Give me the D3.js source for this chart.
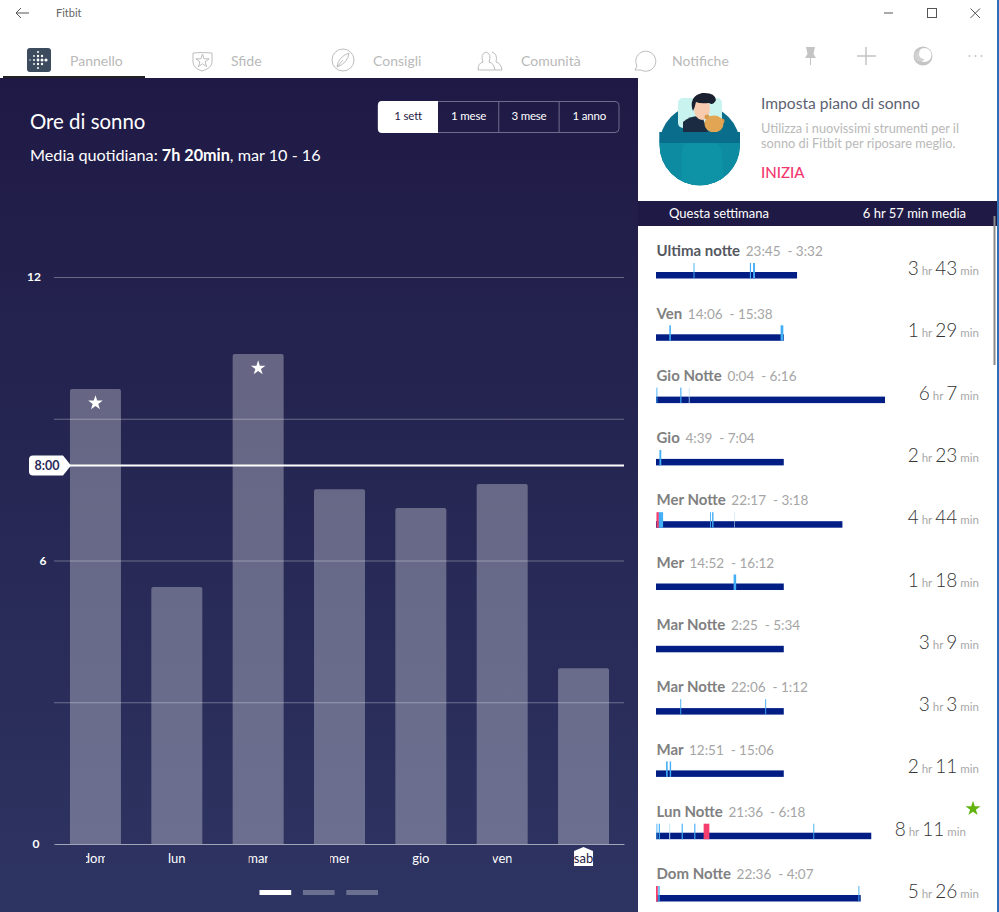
<!DOCTYPE html>
<html>
<head>
<meta charset="utf-8">
<script src="https://cdnjs.cloudflare.com/ajax/libs/d3/7.8.5/d3.min.js"></script>
<style>
  html, body { margin: 0; padding: 0; background: #fff; }
  svg { display: block; font-family: Lato, "Open Sans", sans-serif; }
  .tick text { font-family: Lato, "Open Sans", sans-serif; }
</style>
</head>
<body>
<div id="chart"></div>
<script>
// weekly chart
const days = ["dom", "lun", "mar", "mer", "gio", "ven", "sab"];
const sleepHours = [9.63, 5.44, 10.37, 7.51, 7.11, 7.62, 3.72];
const starredDays = ["dom", "mar"];
const yTicks = [0, 3, 6, 9, 12];
const yLabels = [0, 6, 12];
const goalHours = 8;
const goalLabel = "8:00";
const ranges = ["1 sett", "1 mese", "3 mese", "1 anno"];
const tabs = ["Pannello", "Sfide", "Consigli", "Comunità", "Notifiche"];

// sleep log, bar values are % of the longest bar
const logNames = ["Ultima notte", "Ven", "Gio Notte", "Gio", "Mer Notte", "Mer", "Mar Notte", "Mar Notte", "Mar", "Lun Notte", "Dom Notte"];
const logStart = ["23:45", "14:06", "0:04", "4:39", "22:17", "14:52", "2:25", "22:06", "12:51", "21:36", "22:36"];
const logEnd = ["3:32", "15:38", "6:16", "7:04", "3:18", "16:12", "5:34", "1:12", "15:06", "6:18", "4:07"];
const logHr = [3, 1, 6, 2, 4, 1, 3, 3, 2, 8, 5];
const logMin = [43, 29, 7, 23, 44, 18, 9, 3, 11, 11, 26];
const logLength = [61.6, 55.8, 100, 55.8, 81.4, 55.8, 55.8, 55.8, 55.8, 94, 89.4];
const restless = [
  [[16.4, 0.4], [41, 0.5], [42.4, 0.8]],
  [[5.8, 0.7], [54.4, 1.2]],
  [[0.2, 0.4], [10.6, 0.5]],
  [[1.5, 0.8]],
  [[1, 2.1], [23.6, 0.4], [24.5, 0.6]],
  [[33.9, 1.1]],
  [],
  [[10.6, 0.4], [47.7, 0.4]],
  [[4.4, 0.7], [6, 0.6]],
  [[0.2, 0.4], [1.2, 0.5], [11.2, 0.5], [16.7, 0.5], [68.7, 0.4]],
  [[1, 0.6], [88.4, 0.4]]
];
const faint = [[], [], [[14.3, 0.4]], [], [[34.2, 0.3]], [], [], [], [], [[5.7, 0.5]], []];
const awake = [[], [], [], [], [[0.2, 1]], [], [], [], [], [[20.8, 2.5]], [[0, 0.8]]];
const starredRow = "Lun Notte";

const svg = d3.select("#chart").append("svg").attr("width", 999).attr("height", 912);
const defs = svg.append("defs");
const grad = defs.append("linearGradient").attr("id", "bg").attr("x1", 0).attr("x2", 0).attr("y1", 0).attr("y2", 1);
grad.append("stop").attr("offset", "0%").attr("stop-color", "#1f1a45");
grad.append("stop").attr("offset", "100%").attr("stop-color", "#2e3462");

svg.append("rect").attr("x", 0).attr("y", 78).attr("width", 638).attr("height", 834).attr("fill", "url(#bg)");

// Scales
const x = d3.scaleBand().domain(days).range([54.8, 624.2]).paddingInner(0.373).paddingOuter(0.1865);
const y = d3.scaleLinear().domain([0, 12]).range([844, 277]);

// Grid and y axis
const yAxis = svg.append("g").attr("transform", "translate(54,0)")
  .call(d3.axisLeft(y).tickValues(yTicks).tickSize(-570).tickPadding(12)
    .tickFormat(d => yLabels.includes(d) ? d : ""));
yAxis.select(".domain").remove();
yAxis.selectAll("line").attr("stroke", "#fff").attr("stroke-opacity", 0.32);
// the labels are not lined up in the app either
yAxis.selectAll("text").attr("fill", "#fff").attr("font-size", 12).attr("font-weight", 700)
  .style("text-anchor", "middle").attr("x", d => d === 6 ? -11 : d === 12 ? -20 : -18);

// Bars
svg.selectAll(".day").data(days).enter().append("path")
  .attr("class", "day")
  .attr("fill", "#fff").attr("fill-opacity", 0.3)
  .attr("d", (d, i) => {
    const bx = x(d), by = y(sleepHours[i]), w = x.bandwidth(), r = 2;
    return `M${bx},${y(0)}V${by + r}Q${bx},${by} ${bx + r},${by}H${bx + w - r}Q${bx + w},${by} ${bx + w},${by + r}V${y(0)}Z`;
  });

const star = d3.symbol().type(d3.symbolStar);
svg.selectAll(".star").data(starredDays).enter().append("path")
  .attr("class", "star").attr("fill", "#fff")
  .attr("d", star.size(66)())
  .attr("transform", d => `translate(${x(d) + x.bandwidth() / 2},${y(sleepHours[days.indexOf(d)]) + 14})`);

// Goal line
const goalY = y(goalHours) - 0.5;
svg.append("line").attr("x1", 68).attr("x2", 624).attr("y1", goalY).attr("y2", goalY).attr("stroke", "#fff").attr("stroke-width", 2);
svg.append("path").attr("fill", "#fff")
  .attr("d", `M33,${goalY - 10}H63L71,${goalY}L63,${goalY + 10}H33Q29,${goalY + 10} 29,${goalY + 6}V${goalY - 6}Q29,${goalY - 10} 33,${goalY - 10}Z`);
svg.append("text").attr("x", 47).attr("y", goalY).attr("dy", "0.35em").attr("text-anchor", "middle")
  .attr("font-size", 12.5).attr("font-weight", 700).attr("fill", "#2a2b5a").text(goalLabel);

// Highlight behind today's label
const sabX = x("sab") + x.bandwidth() / 2;
svg.append("path").attr("fill", "#fff").attr("d", `M${sabX - 9.5},851L${sabX},847L${sabX + 9.5},851V866H${sabX - 9.5}Z`);

// X axis, labels get cut off on the sides like in the app
defs.append("clipPath").attr("id", "tickClip").append("rect").attr("x", -9.5).attr("y", 0).attr("width", 19).attr("height", 30);
const xAxis = svg.append("g").attr("transform", `translate(0,${y(0)})`)
  .call(d3.axisBottom(x).tickSize(0).tickPadding(10));
xAxis.select(".domain").attr("stroke", "#fff").attr("stroke-opacity", 0.35);
xAxis.selectAll(".tick").attr("clip-path", "url(#tickClip)");
xAxis.selectAll("text").attr("font-size", 13).attr("fill", d => d === "sab" ? "#1f1a45" : "#fff");

// Pager
const pager = d3.scaleBand().domain([0, 1, 2]).range([259.5, 378]).paddingInner(0.27);
svg.selectAll(".page").data(pager.domain()).enter().append("rect")
  .attr("x", d => pager(d)).attr("y", 890).attr("width", pager.bandwidth()).attr("height", 5)
  .attr("fill", d => d === 0 ? "#fff" : "#6c7090");

// Heading
svg.append("text").attr("x", 30).attr("y", 129).attr("font-size", 20.4).attr("fill", "#fff").text("Ore di sonno");
const sub = svg.append("text").attr("x", 30).attr("y", 160.5).attr("font-size", 16.2).attr("fill", "#fff");
sub.append("tspan").text("Media quotidiana: ");
sub.append("tspan").attr("font-weight", 700).text("7h 20min");
sub.append("tspan").text(", mar 10 - 16");

// Range buttons
const rangeX = d3.scaleBand().domain(ranges).range([378, 619.5]);
svg.append("rect").attr("x", 378).attr("y", 101.5).attr("width", 241).attr("height", 31).attr("rx", 4)
  .attr("fill", "none").attr("stroke", "#6f6d8e");
svg.append("path").attr("fill", "#fff")
  .attr("d", `M438,101H382Q378,101 378,105V129Q378,133 382,133H438Z`);
svg.selectAll(".rangeSep").data(ranges.slice(2)).enter().append("line")
  .attr("x1", d => rangeX(d)).attr("x2", d => rangeX(d)).attr("y1", 102).attr("y2", 132).attr("stroke", "#6f6d8e");
svg.selectAll(".rangeText").data(ranges).enter().append("text")
  .attr("x", d => rangeX(d) + rangeX.bandwidth() / 2).attr("y", 116).attr("dy", "0.35em")
  .attr("text-anchor", "middle").attr("font-size", 11.5).attr("letter-spacing", -0.2)
  .attr("fill", (d, i) => i === 0 ? "#1f1a45" : "#fff").text(d => d);

// Title bar
const chrome = svg.append("g").attr("fill", "none").attr("stroke", "#555").attr("stroke-width", 1);
chrome.append("path").attr("d", "M29,13H16M21,8L16,13L21,18");
chrome.append("path").attr("d", "M884,13H893");
chrome.append("rect").attr("x", 927.5).attr("y", 8.5).attr("width", 9).attr("height", 9);
chrome.append("path").attr("d", "M970.5,8.5L980,18M980,8.5L970.5,18");
svg.append("text").attr("x", 56).attr("y", 17).attr("font-size", 11).attr("fill", "#666").text("Fitbit");

// Tabs
const tabX = [70, 231, 373, 521, 672];
svg.selectAll(".tab").data(tabs).enter().append("text")
  .attr("x", (d, i) => tabX[i]).attr("y", 66).attr("font-size", 14).attr("fill", "#b9b9b9").text(d => d);
svg.append("rect").attr("x", 3).attr("y", 76).attr("width", 142).attr("height", 2).attr("fill", "#222");

// Fitbit logo
svg.append("rect").attr("x", 27).attr("y", 48).attr("width", 24).attr("height", 24).attr("rx", 3).attr("fill", "#3d4b5e");
const logoDots = [[0, -8, 1], [0, -4, 1.2], [0, 0, 1.4], [0, 4, 1.2], [0, 8, 1], [-4, -4, 0.9], [-4, 0, 1], [-4, 4, 0.9], [-8, 0, 0.7], [4, -4, 1.2], [4, 0, 1.5], [4, 4, 1.2], [8, 0, 1.6]];
svg.selectAll(".logoDot").data(logoDots).enter().append("circle")
  .attr("cx", d => 38 + d[0]).attr("cy", d => 60 + d[1]).attr("r", d => d[2]).attr("fill", "#fff");

// Tab icons
const icons = svg.append("g").attr("fill", "none").attr("stroke", "#bdbdbd").attr("stroke-width", 1);
icons.append("path").attr("d", "M193,53Q202,52 212,53V62Q212,68 202,71Q193,68 193,62Z");
icons.append("path").attr("d", star.size(55)()).attr("transform", "translate(202.5,61)");
icons.append("circle").attr("cx", 343).attr("cy", 60).attr("r", 11);
icons.append("path").attr("d", "M337,67Q338,57 349,53Q348,63 337,67ZM337,67L343,60");
icons.append("path").attr("d", "M478,70Q478,63 483,62Q480,54 486,52Q492,54 489,62Q494,63 495,70ZM492,52Q498,54 496,62Q501,63 502,70H495");
icons.append("path").attr("d", "M635,70L637,66A10,10 0 1 1 641,70Z");
const topIcons = svg.append("g").attr("fill", "none").attr("stroke", "#c4c4c4").attr("stroke-width", 1.5);
topIcons.append("path").attr("d", "M866,47V65M857,56H876");
svg.append("path").attr("fill", "#c4c4c4").attr("d", "M806,47H815L813.5,54L816,58H811V65H810V58H805L807.5,54Z");
svg.append("circle").attr("cx", 923).attr("cy", 56).attr("r", 9.5).attr("fill", "#c4c4c4");
svg.append("circle").attr("cx", 924.5).attr("cy", 55).attr("r", 7).attr("fill", "#fff");
svg.append("circle").attr("cx", 920).attr("cy", 56).attr("r", 5.5).attr("fill", "#d2d2d2");
svg.append("circle").attr("cx", 924).attr("cy", 54).attr("r", 5).attr("fill", "#fff");
svg.selectAll(".more").data([-6, 0, 6]).enter().append("circle")
  .attr("cx", d => 975.5 + d).attr("cy", 56).attr("r", 1).attr("fill", "#c4c4c4");

// Sleep plan card
defs.append("clipPath").attr("id", "disc").append("path").attr("d", "M659.5,90H740V145A40.25,40.25 0 0 1 659.5,145Z");
const art = svg.append("g").attr("clip-path", "url(#disc)");
art.append("circle").attr("cx", 699.7).attr("cy", 145.5).attr("r", 40.5).attr("fill", "#0b6d8c");
art.append("rect").attr("x", 678).attr("y", 98).attr("width", 44).attr("height", 30).attr("rx", 5).attr("fill", "#c9f3ee");
art.append("path").attr("d", "M683,132V122Q690,115 702,116L708,132Z").attr("fill", "#1b2c42");
art.append("ellipse").attr("cx", 702).attr("cy", 109).attr("rx", 8).attr("ry", 11).attr("fill", "#f6cbb0");
art.append("path").attr("d", "M692,108Q690,96 702,93Q715,92 716,100Q713,106 709,103Q700,104 696,102Q695,107 693,111Z").attr("fill", "#1a2030");
art.append("circle").attr("cx", 707).attr("cy", 117).attr("r", 2.5).attr("fill", "#d89a48");
art.append("circle").attr("cx", 722).attr("cy", 121).attr("r", 2.5).attr("fill", "#d89a48");
art.append("ellipse").attr("cx", 714).attr("cy", 124).attr("rx", 9.5).attr("ry", 8.5).attr("fill", "#e2a553");
art.append("rect").attr("x", 655).attr("y", 132).attr("width", 90).attr("height", 60).attr("fill", "#0d8ba1");
art.append("rect").attr("x", 655).attr("y", 132).attr("width", 90).attr("height", 11).attr("fill", "#0b6d8c");
art.append("path").attr("d", "M682,190V148Q684,143 690,143H712Q722,143 722,155L725,190Z").attr("fill", "#0e93a6");

svg.append("text").attr("x", 761).attr("y", 109).attr("font-size", 15.6).attr("fill", "#5c6272").text("Imposta piano di sonno");
svg.append("text").attr("x", 761).attr("y", 133).attr("font-size", 12.8).attr("fill", "#b9b9b9").text("Utilizza i nuovissimi strumenti per il");
svg.append("text").attr("x", 761).attr("y", 148).attr("font-size", 12.8).attr("fill", "#b9b9b9").text("sonno di Fitbit per riposare meglio.");
svg.append("text").attr("x", 761).attr("y", 178).attr("font-size", 15).attr("font-weight", 500).attr("fill", "#f2376f").text("INIZIA");

svg.append("rect").attr("x", 638).attr("y", 201).attr("width", 359).attr("height", 25).attr("fill", "#1f1a45");
svg.append("text").attr("x", 669).attr("y", 218).attr("font-size", 13).attr("fill", "#fff").text("Questa settimana");
svg.append("text").attr("x", 966).attr("y", 218).attr("text-anchor", "end").attr("font-size", 13).attr("fill", "#fff").text("6 hr 57 min media");

// Sleep log
const rowY = d3.scalePoint().domain(d3.range(logNames.length)).range([251, 874]);
const barX = d3.scaleLinear().domain([0, 100]).range([656, 885]);
const barSpan = d3.scaleLinear().domain([0, 100]).range([0, 229]);

const rows = svg.selectAll(".row").data(logNames).enter().append("g")
  .attr("class", "row").attr("transform", (d, i) => `translate(0,${rowY(i)})`);

const titles = rows.append("text").attr("x", 656.5).attr("dy", "0.35em").attr("font-size", 15).style("white-space", "pre");
titles.append("tspan").attr("font-weight", 700).attr("fill", (d, i) => i === 0 ? "#55585f" : "#808080").text(d => d + " ");
titles.append("tspan").attr("dx", 2).attr("font-size", 13.5).attr("fill", "#a5a5a5").text((d, i) => `${logStart[i]}  - ${logEnd[i]}`);

rows.append("rect").attr("x", barX(0)).attr("y", 21).attr("height", 6.5)
  .attr("width", (d, i) => barSpan(logLength[i])).attr("fill", "#021e85");

function drawMarks(list, color, opacity) {
  rows.each(function (d, i) {
    d3.select(this).selectAll(null).data(list[i]).enter().append("rect")
      .attr("x", m => barX(m[0])).attr("width", m => barSpan(m[1]))
      .attr("y", 12).attr("height", 15.5)
      .attr("fill", color).attr("fill-opacity", opacity);
  });
}
drawMarks(faint, "#bfe3fb", 0.8);
drawMarks(restless, "#42aef5", 1);
drawMarks(awake, "#f43f6e", 1);

const durations = rows.append("text")
  .attr("x", d => d === starredRow ? 966 : 979).attr("y", 24).attr("text-anchor", "end").attr("fill", "#a8a8a8").attr("font-size", 11.5);
durations.append("tspan").attr("font-size", 19).attr("font-weight", 300).attr("fill", "#333").text((d, i) => logHr[i]);
durations.append("tspan").attr("dx", 3).text("hr");
durations.append("tspan").attr("dx", 3).attr("font-size", 19).attr("font-weight", 300).attr("fill", "#333").text((d, i) => logMin[i]);
durations.append("tspan").attr("dx", 3).text("min");

rows.filter(d => d === starredRow).append("path")
  .attr("d", star.size(70)()).attr("fill", "#63b30f").attr("transform", "translate(973,-3)");

// Scrollbar and window edge
svg.append("rect").attr("x", 993.5).attr("y", 216).attr("width", 2).attr("height", 149).attr("fill", "#8a8a8a");
svg.append("rect").attr("x", 997).attr("y", 0).attr("width", 2).attr("height", 912).attr("fill", "#2f6fb5");
</script>
</body>
</html>
